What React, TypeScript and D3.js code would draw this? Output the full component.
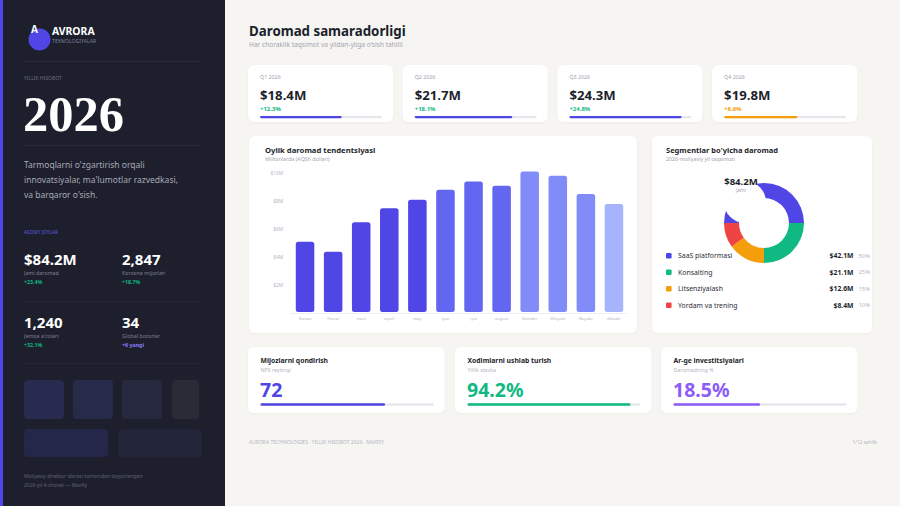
import React from "react";
import * as d3 from "d3";

// ---- data ----
const months = ["Yanvar", "Fevral", "mart", "aprel", "may", "iyun", "iyul", "avgust", "Sentabr", "Oktyabr", "Noyabr", "dekabr"];
const monthlyRevenue = [5.1, 4.4, 6.5, 7.5, 8.1, 8.8, 9.4, 9.1, 10.1, 9.8, 8.5, 7.8];
const monthColors = ["#4f46e5", "#4f46e5", "#4f46e5", "#4f46e5", "#4f46e5", "#6366f1", "#6366f1", "#6366f1", "#818cf8", "#818cf8", "#818cf8", "#a5b4fc"];
const yTicks = [2, 4, 6, 8, 10];

const quarters = ["Q1 2026", "Q2 2026", "Q3 2026", "Q4 2026"];
const quarterRevenue = [18.4, 21.7, 24.3, 19.8];
const quarterGrowth = [12.3, 18.1, 24.8, 8.6];
const quarterProgress = [67, 80, 92, 60];
const quarterColors = ["#4f46e5", "#4f46e5", "#4f46e5", "#f59e0b"];
const growthColors = ["#10b981", "#10b981", "#10b981", "#f59e0b"];

const segments = ["SaaS platformasi", "Konsalting", "Litsenziyalash", "Yordam va trening"];
const segmentRevenue = [42.1, 21.1, 12.6, 8.4];
const segmentShare = [50, 25, 15, 10];
const segmentColors = ["#4f46e5", "#10b981", "#f59e0b", "#ef4444"];

const sideStats = ["$84.2M", "2,847", "1,240", "34"];
const sideStatLabels = ["Jami daromad", "Korxona mijozlari", "Jamoa a'zolari", "Global bozorlar"];
const sideStatDeltas = ["+23.4%", "+18.7%", "+32.1%", "+6 yangi"];
const sideStatDeltaColors = ["#10b981", "#10b981", "#10b981", "#8b7cf6"];

const metricTitles = ["Mijozlarni qondirish", "Xodimlarni ushlab turish", "Ar-ge investitsiyalari"];
const metricSubtitles = ["NPS reytingi", "Yillik stavka", "Daromadning %"];
const metricLabels = ["72", "94.2%", "18.5%"];
const metricProgress = [72, 94.2, 50];
const metricColors = ["#4f46e5", "#10b981", "#8b5cf6"];

const SANS = "'Noto Sans', 'Open Sans', sans-serif";

function Card({ x, y, w, h }: { x: number; y: number; w: number; h: number }) {
  return <rect x={x} y={y} width={w} height={h} rx={6} fill="#ffffff" filter="url(#cardShadow)" />;
}

function Sidebar() {
  const statPos = [
    [24, 265],
    [122, 265],
    [24, 328],
    [122, 328],
  ];
  const blocks = [
    [24, 380, 40, 39, "#292a50"],
    [73, 380, 40, 39, "#282a4a"],
    [122, 380, 40, 39, "#26283f"],
    [172, 380, 27, 39, "#292b37"],
    [24, 429, 84, 28, "#25274a"],
    [118, 429, 84, 28, "#22243a"],
  ] as const;
  return (
    <g>
      <rect x={0} y={0} width={225} height={506} fill="#1d1f2c" />
      <rect x={0} y={0} width={3} height={506} fill="#4f46e5" />
      <circle cx={39.5} cy={39.5} r={11} fill="#4f46e5" />
      <text x={31} y={33} fill="#ffffff" fontFamily={SANS} fontWeight={700} fontSize={10}>A</text>
      <text x={52} y={35} fill="#ffffff" fontFamily={SANS} fontWeight={700} fontSize={10.4}>AVRORA</text>
      <text x={52} y={43} fill="#7c7f99" fontFamily={SANS} fontSize={5.2}>TEXNOLOGIYALAR</text>
      <line x1={24} x2={200} y1={61.5} y2={61.5} stroke="#2a2c3b" />
      <text x={24} y={80} fill="#6b6e82" fontFamily={SANS} fontSize={5}>YILLIK HISOBOT</text>
      <text x={23} y={131} fill="#ffffff" fontFamily="'Liberation Serif', serif" fontWeight={700} fontSize={50.5}>2026</text>
      <line x1={24} x2={200} y1={145.5} y2={145.5} stroke="#2a2c3b" />
      {["Tarmoqlarni o'zgartirish orqali", "innovatsiyalar, ma'lumotlar razvedkasi,", "va barqaror o'sish."].map((t, i) => (
        <text key={i} x={24} y={167.5 + i * 15.2} fill="#a8aab8" fontFamily={SANS} fontSize={8.5}>{t}</text>
      ))}
      <text x={24} y={234} fill="#5b5be0" fontFamily={SANS} fontSize={4.8}>ASOSIY JOYLAR</text>
      {sideStats.map((s, i) => (
        <g key={i} transform={`translate(${statPos[i][0]},${statPos[i][1]})`}>
          <text x={0} y={0} fill="#ffffff" fontFamily={SANS} fontWeight={700} fontSize={15}>{s}</text>
          <text x={0} y={9.5} fill="#7d8093" fontFamily={SANS} fontSize={5.3}>{sideStatLabels[i]}</text>
          <text x={0} y={19} fill={sideStatDeltaColors[i]} fontFamily={SANS} fontWeight={700} fontSize={5.3}>{sideStatDeltas[i]}</text>
        </g>
      ))}
      <line x1={24} x2={200} y1={301.5} y2={301.5} stroke="#23253a" />
      <line x1={24} x2={200} y1={363.5} y2={363.5} stroke="#23253a" />
      {blocks.map(([x, y, w, h, c], i) => (
        <rect key={i} x={x} y={y} width={w} height={h} rx={4} fill={c} />
      ))}
      <text x={24} y={478} fill="#5f6275" fontFamily={SANS} fontSize={5}>Moliyaviy direktor idorasi tomonidan tayyorlangan</text>
      <text x={24} y={487} fill="#5f6275" fontFamily={SANS} fontSize={5}>2026-yil 4-chorak — Maxfiy</text>
    </g>
  );
}

function QuarterCards() {
  const cardW = 145;
  const step = 154.7;
  return (
    <g>
      {quarters.map((q, i) => {
        const x0 = 248 + i * step;
        const bar = d3.scaleLinear().domain([0, 100]).range([0, 122]);
        return (
          <g key={q}>
            <Card x={x0} y={65} w={cardW} h={57} />
            <text x={x0 + 12} y={79} fill="#9ea1ad" fontFamily={SANS} fontSize={5.3}>{q}</text>
            <text x={x0 + 12} y={99.5} fill="#1d1f2c" fontFamily={SANS} fontWeight={700} fontSize={13.2}>${quarterRevenue[i].toFixed(1)}M</text>
            <text x={x0 + 12} y={111} fill={growthColors[i]} fontFamily={SANS} fontWeight={700} fontSize={6}>+{quarterGrowth[i]}%</text>
            <rect x={x0 + 12} y={116} width={bar(100)} height={2.2} rx={1.1} fill="#e6e7ec" />
            <rect x={x0 + 12} y={116} width={bar(quarterProgress[i])} height={2.2} rx={1.1} fill={quarterColors[i]} />
          </g>
        );
      })}
    </g>
  );
}

function MonthlyChart() {
  const x = d3.scaleBand<string>().domain(months).range([291, 628]).paddingInner(0.34).paddingOuter(0.17);
  const y = d3.scaleLinear().domain([0, 10]).range([313.5, 173]);
  return (
    <g>
      <Card x={249} y={136} w={388} h={197} />
      <text x={265} y={153} fill="#1d1f2c" fontFamily={SANS} fontWeight={700} fontSize={7.7}>Oylik daromad tendentsiyasi</text>
      <text x={265} y={161} fill="#a3a5b0" fontFamily={SANS} fontSize={5.3}>Millionlarda (AQSh dollari)</text>
      {yTicks.map((t) => (
        <text key={t} x={283} y={y(t)} dy="0.35em" textAnchor="end" fill="#b3b5bf" fontFamily={SANS} fontSize={4.8}>${t}M</text>
      ))}
      <line x1={290} x2={627} y1={313.5} y2={313.5} stroke="#eeeef2" />
      {months.map((m, i) => (
        <rect key={m} x={x(m)} y={y(monthlyRevenue[i])} width={x.bandwidth()} height={y(0) - y(monthlyRevenue[i]) - 1.5} rx={2.5} fill={monthColors[i]} />
      ))}
      {months.map((m) => (
        <text key={m} x={(x(m) as number) + x.bandwidth() / 2} y={319.5} textAnchor="middle" fill="#b3b5bf" fontFamily={SANS} fontSize={4.2}>{m}</text>
      ))}
    </g>
  );
}

function SegmentChart() {
  const cx = 764;
  const cy = 223;
  const pie = d3.pie<number>().sort(null).startAngle(-Math.PI / 2).endAngle((3 * Math.PI) / 2);
  const arc = d3.arc<d3.PieArcDatum<number>>().innerRadius(25).outerRadius(40);
  const arcs = pie(segmentShare);
  return (
    <g>
      <Card x={652} y={136} w={220} h={197} />
      <text x={666} y={153} fill="#1d1f2c" fontFamily={SANS} fontWeight={700} fontSize={7.5}>Segmentlar bo'yicha daromad</text>
      <text x={666} y={161} fill="#a3a5b0" fontFamily={SANS} fontSize={5.3}>2026-moliyaviy yil taqsimoti</text>
      {segments.map((s, i) => {
        const yy = 255.7 + i * 16.5;
        return (
          <g key={s}>
            <rect x={666} y={yy - 2.8} width={5.6} height={5.6} rx={1.2} fill={segmentColors[i]} />
            <text x={678} y={yy} dy="0.35em" fill="#2b2d3a" fontFamily={SANS} fontSize={6.9}>{s}</text>
            <text x={853.5} y={yy} dy="0.35em" textAnchor="end" fill="#1d1f2c" fontFamily={SANS} fontWeight={700} fontSize={6.8}>${segmentRevenue[i]}M</text>
            <text x={870} y={yy} dy="0.35em" textAnchor="end" fill="#b3b5bf" fontFamily={SANS} fontSize={5.8}>{segmentShare[i]}%</text>
          </g>
        );
      })}
      <g transform={`translate(${cx},${cy})`}>
        {arcs.map((a, i) => (
          <path key={i} d={arc(a) as string} fill={segmentColors[i]} />
        ))}
      </g>
      <circle cx={745} cy={202} r={21} fill="#ffffff" />
      <text x={741} y={185} textAnchor="middle" fill="#1d1f2c" fontFamily={SANS} fontWeight={700} fontSize={9.6}>$84.2M</text>
      <text x={741} y={192} textAnchor="middle" fill="#a3a5b0" fontFamily={SANS} fontSize={5}>Jami</text>
    </g>
  );
}

function MetricCards() {
  const xs = [248, 455, 661];
  const bar = d3.scaleLinear().domain([0, 100]).range([0, 173]);
  return (
    <g>
      {metricTitles.map((t, i) => (
        <g key={t}>
          <Card x={xs[i]} y={347} w={196.5} h={66} />
          <text x={xs[i] + 12.5} y={362.5} fill="#1d1f2c" fontFamily={SANS} fontWeight={700} fontSize={6.8}>{t}</text>
          <text x={xs[i] + 12.5} y={372} fill="#b3b5bf" fontFamily={SANS} fontSize={5.3}>{metricSubtitles[i]}</text>
          <text x={xs[i] + 12} y={397} fill={metricColors[i]} fontFamily={SANS} fontWeight={700} fontSize={19.5}>{metricLabels[i]}</text>
          <rect x={xs[i] + 12.5} y={403.2} width={bar(100)} height={2.5} rx={1.25} fill="#e6e7ec" />
          <rect x={xs[i] + 12.5} y={403.2} width={bar(metricProgress[i])} height={2.5} rx={1.25} fill={metricColors[i]} />
        </g>
      ))}
    </g>
  );
}

export default function App() {
  return (
    <svg width={900} height={506} viewBox="0 0 900 506" style={{ position: "absolute", left: 0, top: 0, display: "block" }}>
      <defs>
        <filter id="cardShadow" x="-10%" y="-10%" width="120%" height="130%">
          <feDropShadow dx={0} dy={1} stdDeviation={1.2} floodColor="#1d1f2c" floodOpacity={0.04} />
        </filter>
      </defs>
      <rect x={0} y={0} width={900} height={506} fill="#f6f5f2" />
      <Sidebar />
      <text x={249} y={35.5} fill="#1d1f2c" fontFamily={SANS} fontWeight={700} fontSize={13.3}>Daromad samaradorligi</text>
      <text x={249} y={47} fill="#a3a5b0" fontFamily={SANS} fontSize={6.6}>Har choraklik taqsimot va yildan-yilga o'sish tahlili</text>
      <QuarterCards />
      <MonthlyChart />
      <SegmentChart />
      <MetricCards />
      <text x={249} y={443.5} fill="#b3b5bf" fontFamily={SANS} fontSize={5}>AURORA TECHNOLOGIES · YILLIK HISOBOT 2026 · MAXFIY</text>
      <text x={877} y={443.5} textAnchor="end" fill="#b3b5bf" fontFamily={SANS} fontSize={4.8}>1/12 sahifa</text>
    </svg>
  );
}
